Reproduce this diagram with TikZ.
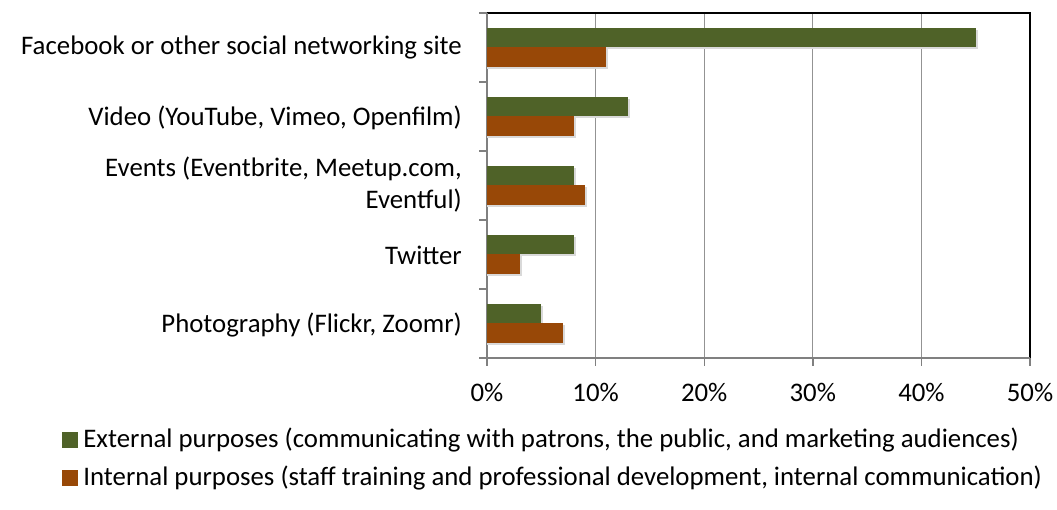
\documentclass[tikz,border=0pt]{standalone}
\usepackage{fontspec}
\setmainfont{Carlito}
\usepackage{xcolor}
\usepackage{tikz}
\usetikzlibrary{positioning}
\definecolor{extgreen}{HTML}{4F6228}
\definecolor{intorange}{HTML}{984807}

\begin{document}
\begin{tikzpicture}[
  x=1pt, y=-1pt,
  font=\fontsize{26.8}{32}\selectfont,
  catlabel/.style={anchor=east, align=right, inner sep=0pt},
  ticklabel/.style={anchor=center, inner sep=0pt},
  extbar/.style={fill=extgreen},
  intbar/.style={fill=intorange},
  barshadow/.style={fill=black!15},
  gridline/.style={draw=gray!85, line width=1.3pt},
  axisline/.style={draw=gray, line width=1.4pt},
  legendkey/.style={minimum size=16pt, inner sep=0pt},
  legendtext/.style={anchor=west, inner sep=0pt}
]
\useasboundingbox (0,0) rectangle (1057,510);
\fill[white] (0,0) rectangle (1057,510);

% grid and frame
\foreach \p in {1,...,4}
  \draw[gridline] (487+108.6*\p,13) -- (487+108.6*\p,358);
\draw[black, line width=1.4pt] (487,13) -- (1030,13) -- (1030,358);
\draw[axisline] (487,13) -- (487,358) -- (1030,358);
\foreach \i in {0,...,5}
  \draw[axisline] (479,13+69*\i) -- (487,13+69*\i);
\foreach \p in {0,...,5}
  \draw[axisline] (487+108.6*\p,358) -- (487+108.6*\p,366);

% bars (external, internal)
\foreach \g/\o [count=\i from 0] in {45/11,13/8,8/9,8/3,5/7} {
  \fill[barshadow] (487,13+69*\i+17) rectangle (487+10.86*\g+2,13+69*\i+36.5);
  \fill[barshadow] (487,13+69*\i+36.5) rectangle (487+10.86*\o+2,13+69*\i+56);
  \fill[extbar] (487,13+69*\i+15) rectangle (487+10.86*\g,13+69*\i+34.5);
  \fill[intbar] (487,13+69*\i+34.5) rectangle (487+10.86*\o,13+69*\i+54);
}

% category labels
\node[catlabel] (fb) at (462,48) {Facebook or other social networking site};
\node[catlabel] (video) at (462,118) {Video (YouTube, Vimeo, Openfilm)};
\node[catlabel] (events) at (462,185) {Events (Eventbrite, Meetup.com,\\Eventful)};
\node[catlabel] (twitter) at (462,255) {Twitter};
\node[catlabel] (photo) at (462,325) {Photography (Flickr, Zoomr)};

% axis labels
\foreach \p/\pct in {0/0,1/10,2/20,3/30,4/40,5/50}
  \node[ticklabel] (t\p) at (487+108.6*\p,392) {\pct\%};

% legend
\node[legendkey, fill=extgreen] (extkey) at (70,440) {};
\node[legendtext, right=5pt of extkey] (exttext) {External purposes (communicating with patrons, the public, and marketing audiences)};
\node[legendkey, fill=intorange] (intkey) at (70,478) {};
\node[legendtext, right=5pt of intkey] (inttext) {Internal purposes (staff training and professional development, internal communication)};
\end{tikzpicture}
\end{document}
